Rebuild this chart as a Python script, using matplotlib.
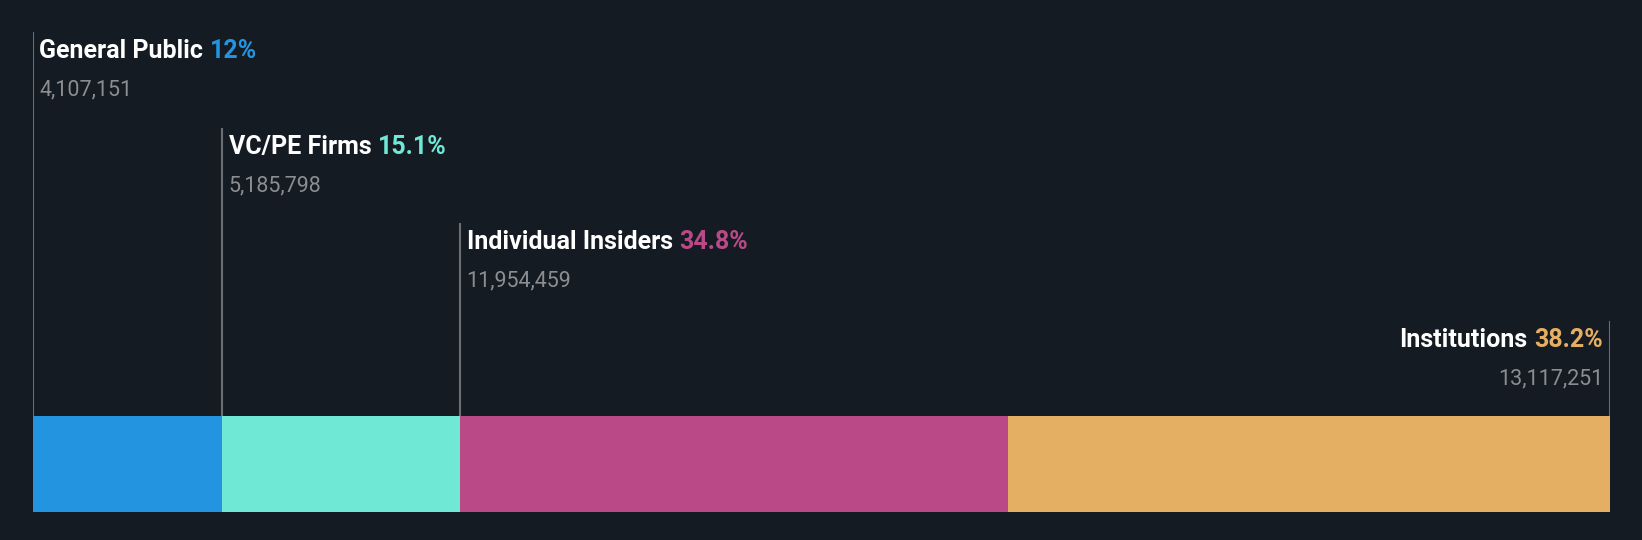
import matplotlib.pyplot as plt

# data
groups = ["General Public", "VC/PE Firms", "Individual Insiders", "Institutions"]
pct = [12.0, 15.1, 34.8, 38.2]
shares = ["4,107,151", "5,185,798", "11,954,459", "13,117,251"]
colors = ["#2394df", "#6fe8d6", "#b94a87", "#e4af63"]

BG = "#151b23"
W, H = 1642, 540

plt.rcParams['font.family'] = ['Roboto', 'DejaVu Sans']

fig = plt.figure(figsize=(W / 100, H / 100), dpi=100)
fig.patch.set_facecolor(BG)

# axes spans the bar area horizontally, pixel units vertically (top = 0)
left_px, right_px = 32.5, 1610
ax = fig.add_axes([left_px / W, 0, (right_px - left_px) / W, 1])
ax.set_facecolor(BG)
ax.set_xlim(0, sum(pct))
ax.set_ylim(H, 0)
ax.axis('off')

bar_top, bar_bot = 416, 512
line_tops = [32, 128, 223, 321]

starts = []
acc = 0
for p in pct:
    starts.append(acc)
    acc += p

ax.barh((bar_top + bar_bot) / 2, pct, left=starts, height=bar_bot - bar_top,
        color=colors, edgecolor='none')

name_fs, num_fs, gap = 18, 15.5, 5
for i, (g, p, s, c, top) in enumerate(zip(groups, pct, shares, colors, line_tops)):
    last = i == len(groups) - 1
    x = starts[i] + p if last else starts[i]
    ax.plot([x, x], [bar_top, top], color="#6b6e73", lw=1.5, solid_capstyle='butt')
    ptxt = f"{p:g}%"
    if not last:
        t = ax.annotate(g, xy=(x, top + 19), xytext=(5, 0), textcoords='offset points',
                        ha='left', va='center', color='white', fontsize=name_fs, fontweight='bold')
        ax.annotate(ptxt, xy=(1, 0), xycoords=t, xytext=(gap, 0), textcoords='offset points',
                    ha='left', va='bottom', color=c, fontsize=name_fs, fontweight='bold')
        ax.annotate(s, xy=(x, top + 58), xytext=(5, 0), textcoords='offset points',
                    ha='left', va='center', color="#8a8d91", fontsize=num_fs)
    else:
        t = ax.annotate(ptxt, xy=(x, top + 19), xytext=(-5, 0), textcoords='offset points',
                        ha='right', va='center', color=c, fontsize=name_fs, fontweight='bold')
        ax.annotate(g, xy=(0, 0), xycoords=t, xytext=(-gap, 0), textcoords='offset points',
                    ha='right', va='bottom', color='white', fontsize=name_fs, fontweight='bold')
        ax.annotate(s, xy=(x, top + 58), xytext=(-5, 0), textcoords='offset points',
                    ha='right', va='center', color="#8a8d91", fontsize=num_fs)

fig.savefig("out.png", dpi=100, facecolor=BG)
